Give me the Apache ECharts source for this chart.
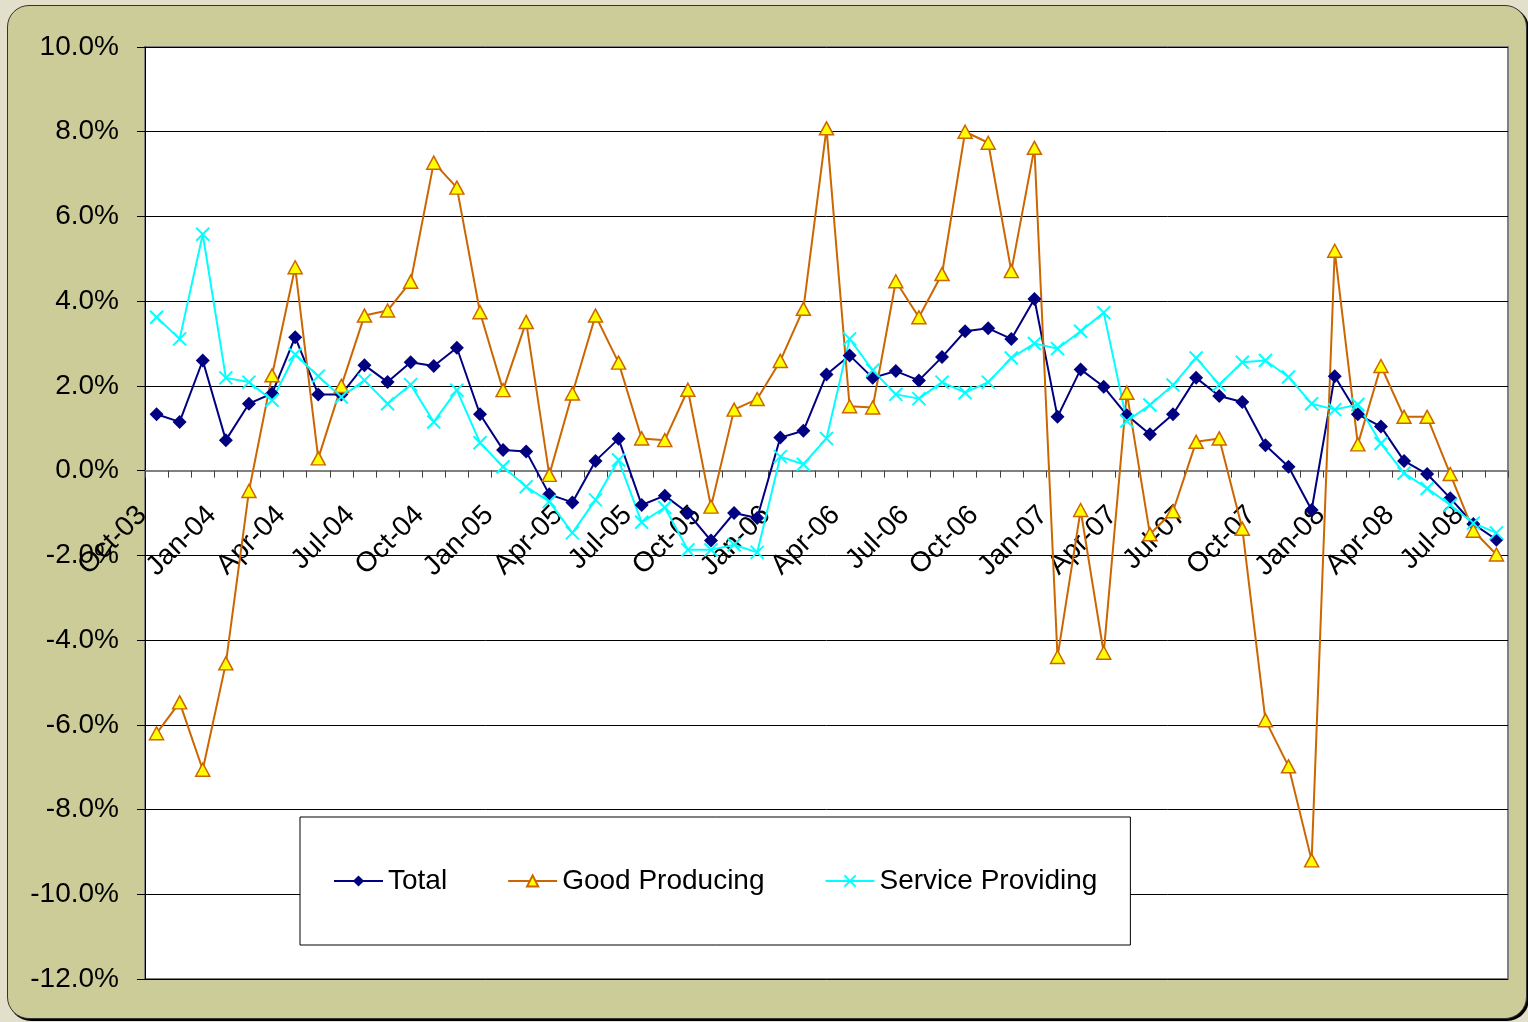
<!DOCTYPE html>
<html>
<head>
<meta charset="utf-8">
<title>Employment growth</title>
<script src="https://cdn.jsdelivr.net/npm/echarts@6/dist/echarts.min.js"></script>
<style>
  html, body { margin: 0; padding: 0; background: #e2dfca; }
  #frame {
    position: absolute; left: 7px; top: 5px; width: 1518px; height: 1012px;
    background: #cccc99; border: 1px solid #333; border-radius: 22px;
    box-shadow: 2px 2px 0 #000;
  }
  #main { position: absolute; left: 0; top: 0; width: 1528px; height: 1022px; }
</style>
</head>
<body>
<div id="frame"></div>
<div id="main"></div>
<script>
var months = [
  "Oct-03", "Nov-03", "Dec-03",
  "Jan-04", "Feb-04", "Mar-04", "Apr-04", "May-04", "Jun-04", "Jul-04", "Aug-04", "Sep-04", "Oct-04", "Nov-04", "Dec-04",
  "Jan-05", "Feb-05", "Mar-05", "Apr-05", "May-05", "Jun-05", "Jul-05", "Aug-05", "Sep-05", "Oct-05", "Nov-05", "Dec-05",
  "Jan-06", "Feb-06", "Mar-06", "Apr-06", "May-06", "Jun-06", "Jul-06", "Aug-06", "Sep-06", "Oct-06", "Nov-06", "Dec-06",
  "Jan-07", "Feb-07", "Mar-07", "Apr-07", "May-07", "Jun-07", "Jul-07", "Aug-07", "Sep-07", "Oct-07", "Nov-07", "Dec-07",
  "Jan-08", "Feb-08", "Mar-08", "Apr-08", "May-08", "Jun-08", "Jul-08", "Aug-08"
];

// percent change
var total = [
  1.33, 1.15, 2.60, 0.72, 1.58, 1.82, 3.15, 1.80, 1.80, 2.49,
  2.09, 2.56, 2.47, 2.90, 1.33, 0.49, 0.45, -0.56, -0.75, 0.23,
  0.75, -0.81, -0.59, -1.00, -1.65, -1.00, -1.12, 0.78, 0.94, 2.27,
  2.72, 2.19, 2.35, 2.13, 2.68, 3.29, 3.36, 3.11, 4.05, 1.27,
  2.39, 1.98, 1.31, 0.86, 1.33, 2.19, 1.76, 1.62, 0.60, 0.09,
  -0.93, 2.23, 1.33, 1.04, 0.23, -0.08, -0.65, -1.26, -1.63
];
var goodProducing = [
  -6.20, -5.47, -7.06, -4.55, -0.48, 2.25, 4.80, 0.29, 2.00, 3.66,
  3.78, 4.46, 7.27, 6.68, 3.74, 1.90, 3.51, -0.10, 1.82, 3.66,
  2.55, 0.76, 0.72, 1.91, -0.85, 1.44, 1.69, 2.59, 3.82, 8.08,
  1.52, 1.49, 4.47, 3.62, 4.64, 8.00, 7.74, 4.71, 7.62, -4.40,
  -0.93, -4.30, 1.84, -1.50, -0.96, 0.68, 0.76, -1.37, -5.89, -6.98,
  -9.20, 5.19, 0.62, 2.47, 1.27, 1.27, -0.08, -1.42, -1.98
];
var serviceProviding = [
  3.62, 3.11, 5.58, 2.19, 2.09, 1.66, 2.74, 2.23, 1.74, 2.13,
  1.58, 2.03, 1.15, 1.90, 0.66, 0.09, -0.38, -0.73, -1.47, -0.69,
  0.25, -1.22, -0.87, -1.87, -1.87, -1.75, -1.93, 0.33, 0.15, 0.76,
  3.11, 2.37, 1.80, 1.70, 2.09, 1.84, 2.09, 2.66, 3.00, 2.88,
  3.29, 3.73, 1.17, 1.55, 2.02, 2.66, 2.03, 2.56, 2.60, 2.21,
  1.58, 1.44, 1.56, 0.64, -0.06, -0.42, -0.81, -1.24, -1.47
];

var font = "'Liberation Sans', Arial, sans-serif";

// grid box and the pixel row of 0% (the x axis sits on it)
var gridTop = 47, gridBottom = 43, chartH = 1022;
var yMin = -12, yMax = 10;
var plotH = chartH - gridTop - gridBottom;
var zeroOffset = plotH * (0 - yMin) / (yMax - yMin);

var myChart = echarts.init(document.getElementById("main"));
var option = {
  animation: false,
  backgroundColor: "transparent",
  textStyle: { fontFamily: font },
  grid: {
    left: 145, right: 20, top: gridTop, bottom: gridBottom,
    outerBoundsMode: "none",
    show: true, backgroundColor: "#ffffff", borderColor: "#808080", borderWidth: 2
  },
  legend: {
    left: 300, top: 817,
    padding: [50, 33, 50, 33],
    backgroundColor: "#ffffff", borderColor: "#000000", borderWidth: 1,
    itemWidth: 49, itemHeight: 14, itemGap: 60,
    textStyle: { fontSize: 28, color: "#000", fontFamily: font },
    data: ["Total", "Good Producing", "Service Providing"]
  },
  xAxis: {
    type: "category",
    data: months,
    boundaryGap: true,
    position: "bottom",
    offset: -zeroOffset,
    axisLine: { onZero: false, lineStyle: { color: "#808080", width: 2 } },
    axisTick: { show: true, interval: 0, length: 7, lineStyle: { color: "#404040" } },
    axisLabel: {
      interval: 2, rotate: 45, fontSize: 28, color: "#000", fontFamily: font,
      margin: 26, padding: [0, 20, 0, 0]
    },
    splitLine: { show: false }
  },
  yAxis: {
    type: "value",
    min: yMin, max: yMax, interval: 2,
    axisLine: { show: true, lineStyle: { color: "#000", width: 1 } },
    axisTick: { show: true, length: 8, lineStyle: { color: "#000" } },
    axisLabel: {
      fontSize: 28, color: "#000", margin: 26, fontFamily: font,
      formatter: function (v) { return v.toFixed(1) + "%"; }
    },
    splitLine: { show: true, lineStyle: { color: "#000", width: 1 } }
  },
  series: [
    {
      name: "Total", type: "line", data: total,
      symbol: "diamond", symbolSize: 14,
      lineStyle: { color: "#000080", width: 2 },
      itemStyle: { color: "#000080" }
    },
    {
      name: "Good Producing", type: "line", data: goodProducing,
      symbol: "triangle", symbolSize: [14, 13],
      lineStyle: { color: "#cc6600", width: 2 },
      itemStyle: { color: "#ffff00", borderColor: "#cc6600", borderWidth: 1.5 }
    },
    {
      name: "Service Providing", type: "line", data: serviceProviding,
      symbol: "path://M0,0L10,10M10,0L0,10", symbolSize: 13,
      lineStyle: { color: "#00ffff", width: 2 },
      itemStyle: { color: "#00ffff", borderColor: "#00ffff", borderWidth: 2 }
    }
  ]
};
option && myChart.setOption(option);
</script>
</body>
</html>
